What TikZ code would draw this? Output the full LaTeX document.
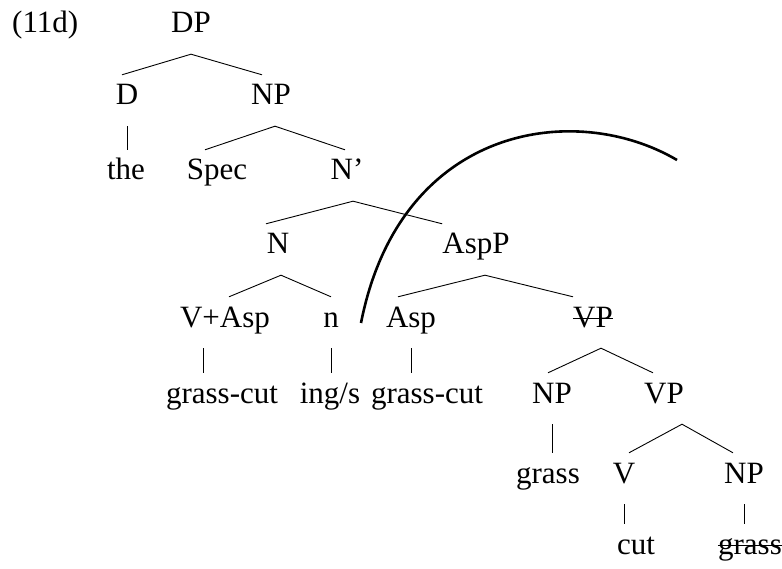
\documentclass[tikz,border=0pt]{standalone}
\usepackage{fontspec}
\setmainfont{Liberation Serif}
\usetikzlibrary{calc}
\tikzset{
  word/.style={anchor=base,inner xsep=0pt,inner ysep=9pt,text height=21pt,
    text depth=12pt,font=\fontsize{31}{37}\selectfont},
  branch/.style={draw=black,line width=0.9pt},
  strike/.style={draw=black,line width=1.1pt},
  movearc/.style={draw=black,line width=2.6pt},
}
\begin{document}
\begin{tikzpicture}[x=1pt,y=-1pt]
  \useasboundingbox (0,0) rectangle (782,569);
  \node[word,anchor=base west] (ex) at (12,33) {(11d)};
  % nodes, row by row
  \node[word] (dp) at (191,33) {DP};
  \node[word] (d) at (127,105) {D};
  \node[word] (np1) at (271,105) {NP};
  \node[word] (the) at (126,180) {the};
  \node[word] (spec) at (217,180) {Spec};
  \node[word] (nbar) at (347,180) {N’};
  \node[word] (nn) at (278,254) {N};
  \node[word] (aspp) at (476,254) {AspP};
  \node[word] (vasp) at (225,327) {V+Asp};
  \node[word] (nsuf) at (331,327) {n};
  \node[word] (asp) at (411,327) {Asp};
  \node[word] (vp1) at (593,327) {VP};
  \node[word] (gc1) at (222,403) {grass-cut};
  \node[word] (ings) at (330,403) {ing/s};
  \node[word] (gc2) at (427,403) {grass-cut};
  \node[word] (np2) at (552,403) {NP};
  \node[word] (vp2) at (664,403) {VP};
  \node[word] (grass) at (548,483) {grass};
  \node[word] (v) at (624,483) {V};
  \node[word] (np3) at (744,483) {NP};
  \node[word] (cut) at (636,554) {cut};
  \node[word] (grass2) at (750,554) {grass};
  % crossed-out copies
  \draw[strike] ([yshift=8.5pt]vp1.base west) -- ([yshift=8.5pt]vp1.base east);
  \draw[strike] ([yshift=8.5pt]grass2.base west) -- ([yshift=8.5pt]grass2.base east);
  % branches
  \draw[branch] ([xshift=-5pt]d.north) -- (dp.south) -- ([xshift=-9pt]np1.north);
  \draw[branch] ([xshift=-12pt]spec.north) -- ([xshift=4pt]np1.south) -- ([xshift=-2pt]nbar.north);
  \draw[branch] ([xshift=-12pt]nn.north) -- ([xshift=6pt]nbar.south) -- (aspp.north west);
  \draw[branch] ([xshift=4pt]vasp.north) -- ([xshift=3pt]nn.south) -- (nsuf.north);
  \draw[branch] ([xshift=-13pt]asp.north) -- ([xshift=9pt]aspp.south) -- ([xshift=-20pt]vp1.north);
  \draw[branch] ([xshift=-4pt]np2.north) -- ([xshift=8pt]vp1.south) -- ([xshift=-11pt]vp2.north);
  \draw[branch] ([xshift=5pt]v.north) -- ([xshift=18pt]vp2.south) -- ([xshift=-11pt]np3.north);
  % unary lines
  \draw[branch] (d.south) -- (d.south |- the.north);
  \draw[branch] ([xshift=-22pt]vasp.south) coordinate (vfoot) -- (vfoot |- gc1.north);
  \draw[branch] (nsuf.south) -- (nsuf.south |- ings.north);
  \draw[branch] (asp.south) -- (asp.south |- gc2.north);
  \draw[branch] (np2.south) -- (np2.south |- grass.north);
  \draw[branch] (v.south) -- (v.south |- cut.north);
  \draw[branch] (np3.south) -- (np3.south |- grass2.north);
  % the movement arc
  \coordinate (arcfoot) at (361,323);
  \coordinate (arcend) at (677,160);
  \draw[movearc] (arcfoot) .. controls (400,125) and (575,100) .. (arcend);
\end{tikzpicture}
\end{document}
